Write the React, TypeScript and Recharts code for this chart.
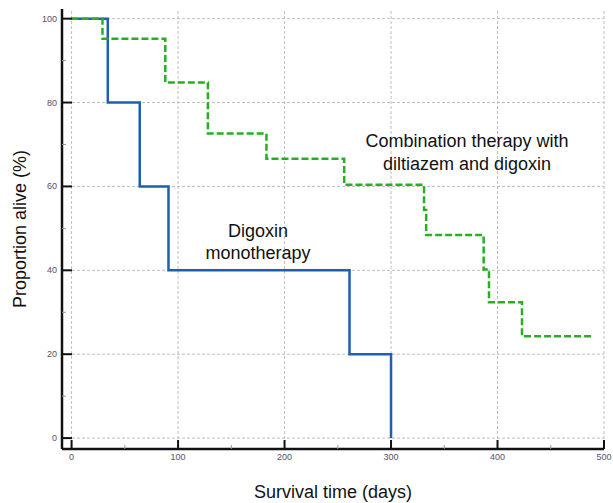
import { LineChart, Line, XAxis, YAxis, ReferenceLine } from "recharts";

const monoDays = [0, 34, 64, 91, 261, 300];
const monoAlive = [100, 80, 60, 40, 20, 0];

const comboDays = [0, 29, 88, 128, 183, 256, 331, 333, 387, 392, 423, 490];
const comboAlive = [100, 95.2, 84.8, 72.6, 66.6, 60.4, 54.4, 48.4, 40.2, 32.4, 24.3, 24.3];

const xTicks = [0, 50, 100, 150, 200, 250, 300, 350, 400, 450, 500];
const xMajor = [0, 100, 200, 300, 400, 500];
const yTicks = [0, 10, 20, 30, 40, 50, 60, 70, 80, 90, 100];
const yMajor = [0, 20, 40, 60, 80, 100];

const monoData = monoDays.map((t, i) => ({ t, s: monoAlive[i] }));
const comboData = comboDays.map((t, i) => ({ t, s: comboAlive[i] }));

const FONT = "'Liberation Sans', Arial, sans-serif";
const TICK_COLOR = "#54506c";
const GRID = "#bebebe";

function YTick(props: any) {
	const { x, y, payload } = props;
	const major = yMajor.includes(payload.value);
	const ax = x + 4;
	return (
		<g>
			<line
				x1={ax}
				x2={ax + (major ? 10 : 4)}
				y1={y}
				y2={y}
				stroke={major ? "#111" : "#999"}
				strokeWidth={major ? 2 : 1}
			/>
			{major && (
				<text x={ax - 5} y={y} dy={3} textAnchor="end" fontSize={9} fontFamily={FONT} fill={TICK_COLOR}>
					{payload.value}
				</text>
			)}
		</g>
	);
}

function XTick(props: any) {
	const { x, y, payload } = props;
	const major = xMajor.includes(payload.value);
	const ay = y - 4;
	return (
		<g>
			<line
				x1={x}
				x2={x}
				y1={ay}
				y2={ay - (major ? 9 : 4)}
				stroke={major ? "#111" : "#999"}
				strokeWidth={major ? 2 : 1}
			/>
			{major && (
				<text x={x} y={ay + 11} textAnchor="middle" fontSize={9} fontFamily={FONT} fill={TICK_COLOR}>
					{payload.value}
				</text>
			)}
		</g>
	);
}

const noteStyle = {
	position: "absolute" as const,
	fontFamily: FONT,
	fontSize: 18,
	color: "#111",
	textAlign: "center" as const,
	whiteSpace: "nowrap" as const,
};

export default function App() {
	return (
		<div style={{ position: "absolute", left: 0, top: 0, width: 613, height: 503, background: "#fff" }}>
			<LineChart width={613} height={503} margin={{ top: 9, right: 9, left: 0, bottom: 0 }}>
				<XAxis
					dataKey="t"
					type="number"
					domain={[-9, 500]}
					allowDataOverflow
					ticks={xTicks}
					interval={0}
					tickSize={0}
					tickMargin={4}
					tick={XTick}
					axisLine={{ stroke: "#111", strokeWidth: 2.5 }}
					height={54}
					label={{
						value: "Survival time (days)",
						position: "insideBottom",
						offset: 5,
						style: { fontFamily: FONT, fontSize: 18, fill: "#111" },
					}}
				/>
				<YAxis
					type="number"
					domain={[-2.6, 102.3]}
					allowDataOverflow
					ticks={yTicks}
					interval={0}
					tickSize={0}
					tickMargin={4}
					tick={YTick}
					axisLine={{ stroke: "#111", strokeWidth: 2.5 }}
					width={62}
					label={{
						value: "Proportion alive (%)",
						angle: -90,
						position: "insideLeft",
						offset: 20,
						style: { fontFamily: FONT, fontSize: 18, fill: "#111", textAnchor: "middle" },
					}}
				/>
				{yMajor.map((v) => (
					<ReferenceLine
						key={`h${v}`}
						y={v}
						ifOverflow="visible"
						stroke={GRID}
						strokeWidth={1}
						strokeDasharray="3 2"
					/>
				))}
				{xMajor.map((v) => (
					<ReferenceLine
						key={`v${v}`}
						x={v}
						ifOverflow="visible"
						stroke={GRID}
						strokeWidth={1}
						strokeDasharray="3 2"
					/>
				))}
				<Line
					data={monoData}
					dataKey="s"
					type="stepAfter"
					stroke="#1f5fae"
					strokeWidth={2.5}
					dot={false}
					isAnimationActive={false}
				/>
				<Line
					data={comboData}
					dataKey="s"
					type="stepAfter"
					stroke="#25b022"
					strokeWidth={2.5}
					strokeDasharray="7 3"
					dot={false}
					isAnimationActive={false}
				/>
			</LineChart>
			<div style={{ ...noteStyle, left: 178, width: 160, top: 220, lineHeight: "22px" }}>
				Digoxin
				<br />
				monotherapy
			</div>
			<div style={{ ...noteStyle, left: 357, width: 220, top: 130, lineHeight: "23px" }}>
				Combination therapy with
				<br />
				diltiazem and digoxin
			</div>
		</div>
	);
}
